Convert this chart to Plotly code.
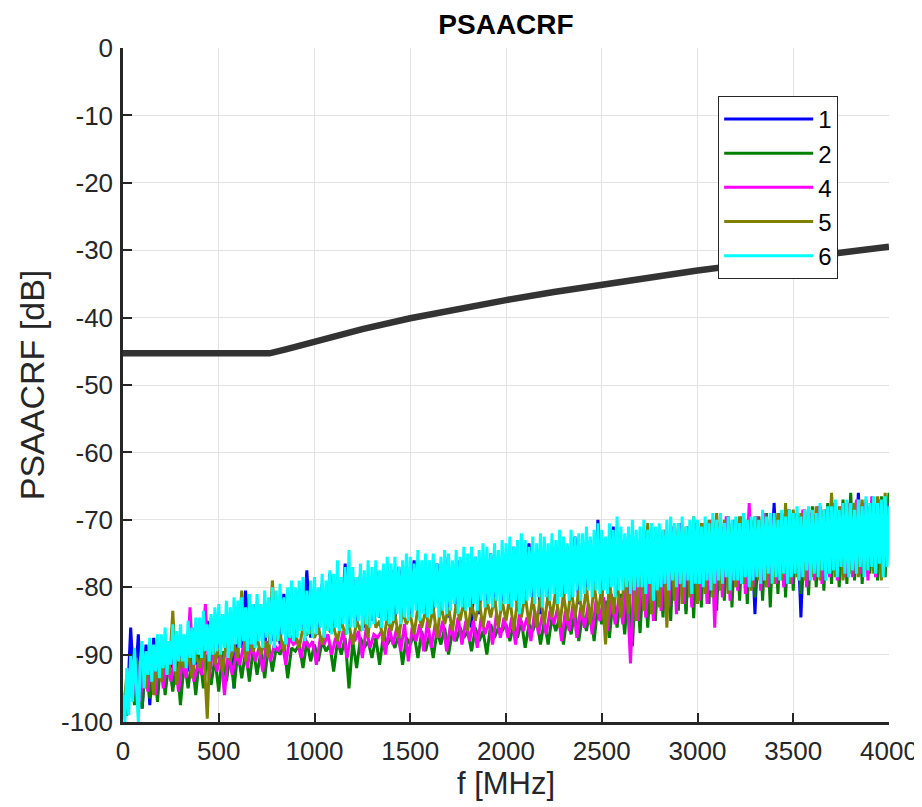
import plotly.graph_objects as go

# Frequency grids of the measured traces [MHz]
F_MHZ = list(range(0, 4001, 20))          # traces 1 and 5
F_MHZ_M = list(range(10, 4000, 20))       # trace 4 samples
F_MHZ_G = list(range(20, 4001, 20))       # trace 2 samples
F_MHZ_FINE = list(range(0, 4001, 10))     # trace 6 samples

# Series values [dB]
S1_BLUE = [
 -97, -99, -86, -96, -87, -98, -88.5, -97.5, -87.5, -94.5,
 -88, -93, -88.5, -92, -87, -92.5, -87.5, -92.5, -86, -91.5,
 -85.5, -91, -85, -90, -86, -90.5, -84, -89.5, -84.5, -95,
 -83, -89, -80.5, -89.5, -82.5, -88, -83, -89, -82, -88,
 -81.5, -88.5, -81, -87.5, -82, -88, -80.5, -87, -77.5, -87.5,
 -80, -87, -79.5, -86, -78, -86.5, -79.5, -85.5, -76.5, -86,
 -78.5, -85.5, -78, -86, -79, -85, -77.5, -84.5, -78, -85.5,
 -77.5, -85, -77, -84, -78, -84.5, -76, -84, -77, -83.5,
 -77, -84, -76.5, -83.5, -75.5, -84.5, -77, -83, -76, -83.5,
 -76, -86, -75.5, -84, -76.5, -82.5, -75, -83, -75.5, -82.5,
 -75, -82.5, -74, -83.5, -75, -82, -73.5, -82.5, -74.5, -84,
 -74.5, -82, -74, -81.5, -73, -82, -74, -81, -72.5, -82.5,
 -73.5, -81, -73, -80.5, -70, -81.5, -73.5, -80.5, -71, -81,
 -73, -80.5, -72, -81, -72.5, -80, -71.5, -82, -72.5, -80.5,
 -72, -80, -72.5, -83, -71.5, -80.5, -71, -83.5, -72, -81,
 -72, -79.5, -71, -80, -71.5, -79, -70.5, -80.5, -71.5, -79,
 -71.5, -79, -71, -80, -70.5, -84, -71, -79.5, -70, -79,
 -67.5, -78.5, -70, -79, -70.5, -78, -69.5, -84.5, -70, -78,
 -70, -78, -69.5, -78.5, -69, -77.5, -70, -79, -69, -77.5,
 -69.5, -77.5, -66, -78, -69, -77, -68, -78.5, -69, -77,
 -69]

S2_GREEN = [
 -99, -92, -97.5, -91, -98, -90.5, -96.5, -90, -97, -89.5,
 -96, -91, -95.5, -90.5, -97.5, -91, -95, -90.5, -96, -90,
 -95, -90, -94.5, -90.5, -95.5, -89.5, -94, -90, -95, -89.5,
 -93.5, -89.5, -94, -89, -93, -89.5, -93.5, -88.5, -92.5, -89,
 -90, -88.5, -93.5, -89, -89.5, -88.5, -92, -88, -91, -88.5,
 -91, -88, -89.5, -88.5, -92.5, -88, -90, -87.5, -95, -88,
 -92, -87.5, -89, -88, -90.5, -87.5, -91.5, -87, -88.5, -87.5,
 -89, -87, -91.5, -87.5, -88.5, -87, -90.5, -86.5, -89.5, -87,
 -90.5, -86.5, -88.5, -86, -90, -86.5, -88, -86, -87.5, -86.5,
 -89.5, -86, -88, -86.5, -90, -85.5, -87.5, -86, -86.5, -85.5,
 -88, -85.5, -87.5, -85, -89, -85.5, -86.5, -84.5, -88.5, -85,
 -88.5, -84.5, -86.5, -84.5, -88.5, -84, -87, -83.5, -88, -84,
 -86.5, -83, -88, -82.5, -85.5, -82, -87.5, -81.5, -86, -81,
 -87, -79, -88.8, -78, -86.8, -77, -86, -76, -85, -75,
 -84.5, -72, -85, -71.5, -83.5, -71, -84, -71.5, -84.6, -70.5,
 -83, -70.5, -82.5, -70, -83.5, -70.5, -82, -69.5, -83, -70,
 -82, -69.5, -82.5, -70, -81.5, -69.5, -82, -69, -83, -69.5,
 -81, -69, -81.5, -68.5, -80.5, -69, -81, -68.5, -81.2, -68,
 -80, -68, -80.5, -67.5, -79.5, -68, -80, -67, -79.5, -66,
 -79, -67.5, -79.5, -67, -78, -67.5, -79, -66.5, -78.5, -66]

S4_MAGENTA = [
 -98, -92, -96.5, -90.5, -97, -91, -95.5, -90, -96, -89.5,
 -95, -91, -94, -90.5, -95.5, -91, -93.5, -83, -94, -91.5,
 -93, -82.5, -93.5, -89, -92.5, -90, -96, -89.5, -93, -90,
 -91.5, -88.5, -92, -88, -91, -89, -92.5, -88, -91, -88.5,
 -89.5, -88, -91.5, -87.5, -88.5, -88, -90.5, -87.5, -89, -88,
 -91.5, -87.5, -88.5, -87, -90, -87.5, -89, -86.5, -90.5, -87,
 -88, -86.5, -90.5, -86, -89, -87, -87.5, -86.5, -90, -86,
 -88.5, -86, -89.5, -85.5, -91, -86, -88, -85.5, -89.5, -85,
 -89, -85.5, -87.5, -85, -89.5, -85.5, -88, -84.5, -88.5, -85,
 -88, -85, -89, -84.5, -87, -85, -88.5, -84, -87.5, -84.5,
 -87.5, -84.5, -88.5, -84, -86.5, -84.5, -88, -83.5, -87, -84,
 -87, -83.5, -85.5, -83, -88, -83.5, -86.5, -82.5, -87.5, -83,
 -86, -82.5, -87, -82, -85, -81.5, -86.5, -81, -85.5, -81.5,
 -85.5, -79, -91.3, -78, -85, -77.5, -84.5, -76, -85, -75,
 -83.5, -71.5, -83, -71, -84, -70.5, -82.5, -71, -83, -70.5,
 -82, -70.5, -82.5, -70, -86, -70.5, -81.5, -69.5, -82, -70,
 -80.5, -69.5, -81, -67.5, -80, -69.5, -80.5, -69, -80, -70,
 -79.5, -69, -80, -68.5, -79.5, -69, -79, -68.5, -80, -69,
 -79, -68, -79.5, -68.5, -78.5, -67.5, -79, -68, -78.5, -67.5,
 -78.5, -67, -78, -67.5, -79, -66.5, -78.5, -67, -77.5, -67.5]

S5_OLIVE = [
 -99, -93, -96, -90, -97, -91, -95, -89, -96, -90.5,
 -94, -90, -93, -83.5, -94.5, -90.5, -92, -89.5, -93.5, -90,
 -92, -88.5, -99.5, -84.5, -91.5, -89, -92.5, -88, -91, -88.5,
 -90.5, -80.5, -91, -88, -89.5, -87.5, -90, -88, -90.5, -79,
 -88, -87, -89.5, -86.5, -87.5, -87, -89, -86, -87, -86.5,
 -87.5, -86, -88.5, -85.5, -86.5, -86, -88, -85, -87, -85.5,
 -88.5, -85, -86.5, -84.5, -87.5, -80, -86, -85, -88, -84.5,
 -86.5, -84, -87.5, -83.5, -85.5, -84, -87, -83, -86, -83.5,
 -86, -83, -87.5, -82.5, -85.5, -83, -86.5, -82.5, -85, -82,
 -86.5, -82.5, -85, -82, -86, -82, -84.5, -81.5, -86, -82,
 -85, -81.5, -86.5, -82, -84.5, -81, -85.5, -81.5, -86, -81,
 -85.5, -81, -84.5, -80.5, -86, -81, -85, -80, -84.5, -80.5,
 -84.5, -80, -85.5, -79.5, -84, -80, -88.5, -79, -84, -79,
 -84.5, -78, -84, -77, -85, -76.5, -83.5, -70.5, -84, -76,
 -83, -71.5, -86, -71, -82, -70.5, -82.5, -71, -81.5, -69.5,
 -82.5, -70.5, -81, -70, -81.5, -69, -80.5, -70, -81, -70.5,
 -80, -69.5, -79.5, -70, -80.5, -69.5, -79, -69, -80, -70,
 -79.5, -69, -79, -67.5, -79.5, -68.5, -78.5, -69, -79, -68.5,
 -78.5, -68, -79, -68.5, -78, -66, -78.5, -68, -79, -67.5,
 -78, -67.5, -78.5, -67, -77.5, -68, -78, -66.5, -79, -66,
 -74]

# cyan trace on the finer 10 MHz grid (401 points)
S6_CYAN = [
 -96, -100, -92, -99, -90, -97, -89, -95, -100, -91,
 -88, -95, -89.5, -93, -87.5, -94, -88.5, -92.5, -87, -93.5,
 -87, -92, -86, -93, -88, -91.5, -85.5, -92.5, -86.5, -91,
 -85.5, -91, -87, -92, -85, -90.5, -86, -91.5, -84.5, -90,
 -84.5, -90.5, -83.5, -89.5, -85.5, -91, -84, -90, -83, -89.5,
 -82.5, -90, -84, -89, -82, -90.5, -83, -89.5, -81.5, -88.5,
 -82, -89, -81.5, -88, -83, -89.5, -81, -88.5, -82.5, -89,
 -81, -88, -82.5, -89, -80.5, -87.5, -81.5, -88.5, -80, -89,
 -80.5, -88, -79.5, -87, -81.5, -88.5, -80, -87.5, -79, -88,
 -80, -87.5, -79, -86.5, -78.5, -88, -80.5, -87, -79, -87.5,
 -78.5, -87, -80, -86, -78, -87.5, -79, -86.5, -77.5, -87,
 -78, -86, -76, -86.5, -78.5, -85.5, -77, -87, -74.5, -86,
 -77, -86, -78.5, -85, -76.5, -86.5, -77.5, -85.5, -76, -86,
 -77, -85.5, -76, -84.5, -77.5, -86, -76.5, -85, -75.5, -85.5,
 -76.5, -85, -75.5, -84, -77, -85.5, -76, -84.5, -75, -85,
 -75.5, -84.5, -76.5, -83.5, -74.5, -85, -76, -84, -75, -84.5,
 -76, -84, -75, -83, -76.5, -84.5, -75.5, -83.5, -74.5, -84,
 -75, -83.5, -76, -82.5, -74.5, -84, -75.5, -83, -74, -83.5,
 -75, -83, -74, -82.5, -75.5, -83.5, -74.5, -82, -73.5, -83,
 -74, -82.5, -75, -83, -73.5, -82, -74.5, -83.5, -73, -82.5,
 -73.5, -82.5, -72.5, -83, -74, -82, -73, -84, -72, -82.5,
 -73, -82, -74, -81.5, -72.5, -82.5, -73.5, -81.5, -72, -83,
 -72.5, -81.5, -73.5, -82, -72, -81, -73, -82.5, -71.5, -81.5,
 -72.5, -81, -73.5, -82, -71.5, -81.5, -72.5, -80.5, -72, -82,
 -72, -81, -71, -80.5, -72.5, -81.5, -71.5, -80.5, -70.5, -81,
 -71.5, -80.5, -72.5, -81, -70.5, -80, -71.5, -81.5, -69.5, -80.5,
 -71, -80.5, -72, -80, -71, -81, -70, -80.5, -71.5, -80,
 -71, -80, -70, -81, -71.5, -79.5, -70.5, -82, -71, -80.5,
 -70.5, -80, -71.5, -79.5, -70, -80.5, -69.5, -79, -70.5, -80,
 -70.5, -79.5, -69.5, -80, -71, -79, -70, -81, -69.5, -79.5,
 -70, -79.5, -71, -80, -69.5, -79, -70.5, -80.5, -69, -79.5,
 -70, -79, -69, -79.5, -70.5, -78.5, -69.5, -80.5, -70, -79,
 -69.5, -79, -70.5, -79.5, -69, -78.5, -70, -80, -69.5, -79,
 -69.5, -78.5, -70, -79.5, -68.5, -79, -69.5, -78, -69, -79.5,
 -69, -78.5, -70, -79, -68.5, -78, -69.5, -79.5, -68.5, -78.5,
 -69, -78, -68, -79, -69.5, -78.5, -68.5, -77.5, -68, -79,
 -68.5, -78, -69, -78.5, -67.5, -77.5, -68.5, -79, -68, -78,
 -68, -77.5, -67, -78.5, -68.5, -77, -67.5, -78, -67, -78.5,
 -67.5, -77.5, -68.5, -78, -67, -77, -68, -78.5, -66.5, -77.5,
 -67.5, -77, -66.5, -78, -67.5, -76.5, -67, -78.5, -66.5, -77,
 -68]

# Limit line
LIMIT_F = [0, 765, 850, 1000, 1250, 1500, 1750, 2000, 2250, 2500, 2750, 3000, 3250, 3500, 3750, 4000]
LIMIT_DB = [-45.3, -45.3, -44.7, -43.5, -41.7, -40.1, -38.7, -37.4, -36.2, -35.1, -34.0, -33.0, -32.1, -31.2, -30.3, -29.5]

SERIES_NAMES = ["1", "2", "4", "5", "6"]
SERIES_X = [F_MHZ, F_MHZ_G, F_MHZ_M, F_MHZ, F_MHZ_FINE]
SERIES_VALUES = [S1_BLUE, S2_GREEN, S4_MAGENTA, S5_OLIVE, S6_CYAN]
SERIES_COLORS = ["#0000ff", "#008000", "#ff00ff", "#808000", "#00ffff"]

X_TICKS = [0, 500, 1000, 1500, 2000, 2500, 3000, 3500, 4000]
X_TICK_TEXT = ["0", "500", "1000", "1500", "2000", "2500", "3000", "3500", "4000"]
Y_TICKS = [0, -10, -20, -30, -40, -50, -60, -70, -80, -90, -100]
Y_TICK_TEXT = ["0", "-10", "-20", "-30", "-40", "-50", "-60", "-70", "-80", "-90", "-100"]

FONT = "Liberation Sans"
AX = "#262626"

fig = go.Figure()
for name, xs, vals, col in zip(SERIES_NAMES, SERIES_X, SERIES_VALUES, SERIES_COLORS):
    fig.add_trace(go.Scatter(x=xs, y=vals, mode="lines", name=name,
                             legendgroup=name,
                             line=dict(color=col, width=3.0)))
fig.add_trace(go.Scatter(x=LIMIT_F, y=LIMIT_DB, mode="lines", showlegend=False,
                         line=dict(color="#333333", width=6.5)))

axis_common = dict(showgrid=True, gridcolor="#e3e3e3", gridwidth=1,
                   showline=True, linecolor=AX, linewidth=2.5,
                   ticks="inside", ticklen=9, tickwidth=2, tickcolor=AX,
                   zeroline=False, mirror=False, automargin=False,
                   tickfont=dict(family=FONT, size=26, color=AX))

# the page body adds an 8 px offset, so the figure is sized to end at the window edge
W, H = 914, 799
fig.update_layout(
    width=W, height=H,
    margin=dict(l=115, r=33, t=40, b=85, autoexpand=False),
    paper_bgcolor="white", plot_bgcolor="white",
    title=dict(text="<b>PSAACRF</b>", x=0.5, xref="paper", xanchor="center",
               y=1 - 16 / H, yref="container", yanchor="middle", automargin=False,
               font=dict(family=FONT, size=28, color="black")),
    xaxis=dict(range=[0, 4000], tickvals=X_TICKS, ticktext=X_TICK_TEXT,
               title=dict(text="f [MHz]", standoff=6,
                          font=dict(family=FONT, size=31, color=AX)),
               ticklabelstandoff=4, **axis_common),
    yaxis=dict(range=[-100, 0], tickvals=Y_TICKS, ticktext=Y_TICK_TEXT,
               title=dict(text="PSAACRF [dB]", standoff=7,
                          font=dict(family=FONT, size=34, color=AX)),
               ticklabelstandoff=2, **axis_common),
    legend=dict(x=0.777, y=0.929, xanchor="left", yanchor="top",
                bgcolor="white", bordercolor=AX, borderwidth=1,
                font=dict(family=FONT, size=24, color="black"),
                itemwidth=89, tracegroupgap=0),
    showlegend=True,
)

fig.write_html("out.html")
